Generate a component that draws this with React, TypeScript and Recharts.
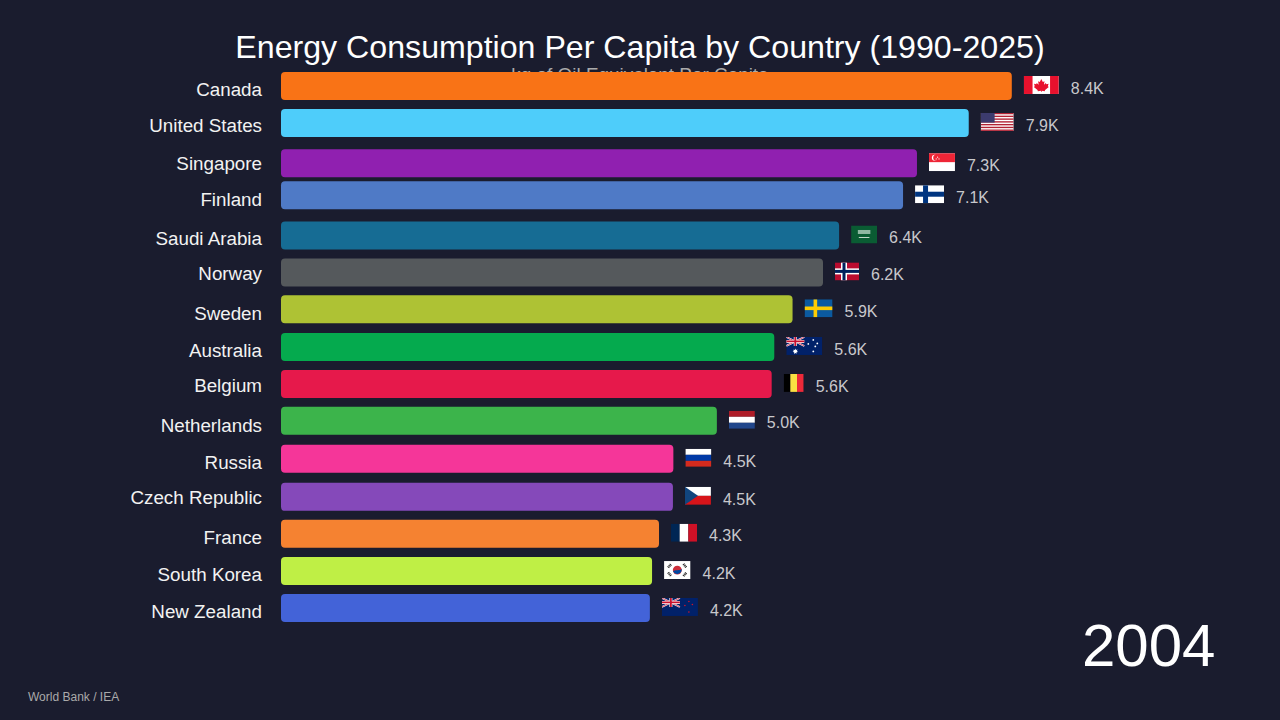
import { BarChart, Bar, XAxis, YAxis, Cell, LabelList } from 'recharts';

const FONT = '"Liberation Sans", Arial, sans-serif';
const BG = '#1a1c2e';

const countries = [
  'Canada', 'United States', 'Singapore', 'Finland', 'Saudi Arabia', 'Norway', 'Sweden', 'Australia',
  'Belgium', 'Netherlands', 'Russia', 'Czech Republic', 'France', 'South Korea', 'New Zealand',
];
// kg of oil equivalent per capita, 2004 frame
const values = [8400, 7905, 7310, 7150, 6415, 6230, 5880, 5670, 5640, 5010, 4510, 4505, 4345, 4265, 4240];
const valueLabels = ['8.4K', '7.9K', '7.3K', '7.1K', '6.4K', '6.2K', '5.9K', '5.6K', '5.6K', '5.0K', '4.5K', '4.5K', '4.3K', '4.2K', '4.2K'];
// rank while the frame is mid-transition, so not whole numbers
const slots = [0, 0.99, 2.07, 2.93, 4.01, 5, 5.99, 7, 7.99, 8.98, 10, 11.02, 12.01, 13.01, 14];
const labelSlots = [0.08, 1.05, 2.07, 3.05, 4.09, 5.03, 6.09, 7.08, 8.02, 9.09, 10.1, 11.04, 12.11, 13.09, 14.08];
const colors = [
  '#f97316', '#4ecdfa', '#9020b0', '#4f7ac6', '#166c94', '#55595c', '#aec234', '#05aa4e',
  '#e6194b', '#3cb44b', '#f53699', '#8549ba', '#f58231', '#bfef45', '#4363d8',
];
const flagWidths = [35, 33, 26, 29, 26, 24, 28, 36, 20, 26, 26, 26, 26, 26.5, 36];

const chartData = countries.map((name, i) => ({ name, value: values[i], slot: slots[i] }));

const UnionJack = () => (
  <g>
    <rect width="30" height="15" fill="#012169" />
    <path d="M0 0L30 15M30 0L0 15" stroke="#fff" strokeWidth="3" />
    <path d="M0 0L30 15M30 0L0 15" stroke="#c8102e" strokeWidth="1.2" />
    <path d="M15 0V15M0 7.5H30" stroke="#fff" strokeWidth="5" />
    <path d="M15 0V15M0 7.5H30" stroke="#c8102e" strokeWidth="3" />
  </g>
);

function Flag({ name }: { name: string }) {
  switch (name) {
    case 'Canada':
      return (
        <g>
          <rect width="36" height="18" fill="#fff" />
          <rect width="9" height="18" fill="#e8112d" />
          <rect x="27" width="9" height="18" fill="#e8112d" />
          <path d="M18 3l1.6 3 1.7-.8-.6 3.6 2-1.8.5 1.3 2.3-.4-.8 2.5 1 .6-3.8 3-.4 1.3-3.2-.5V16h-.6v-1.2l-3.2.5-.4-1.3-3.8-3 1-.6-.8-2.5 2.3.4.5-1.3 2 1.8-.6-3.6 1.7.8z" fill="#e8112d" />
        </g>
      );
    case 'United States':
      return (
        <g>
          <rect width="38" height="20" fill="#fff" />
          {[0, 1, 2, 3, 4, 5, 6].map((n) => (
            <rect key={n} y={n * 3.08} width="38" height="1.54" fill="#b22234" />
          ))}
          <rect width="16" height="10.8" fill="#3c3b6e" />
        </g>
      );
    case 'Singapore':
      return (
        <g>
          <rect width="27" height="18" fill="#fff" />
          <rect width="27" height="9" fill="#ee2536" />
          <circle cx="6" cy="4.5" r="3" fill="#fff" />
          <circle cx="7.4" cy="4.5" r="3" fill="#ee2536" />
          <circle cx="9" cy="4" r="0.6" fill="#fff" />
          <circle cx="7.5" cy="5.8" r="0.6" fill="#fff" />
          <circle cx="10.4" cy="5.8" r="0.6" fill="#fff" />
        </g>
      );
    case 'Finland':
      return (
        <g>
          <rect width="29" height="18" fill="#fff" />
          <rect x="8" width="5" height="18" fill="#003580" />
          <rect y="6.5" width="29" height="5" fill="#003580" />
        </g>
      );
    case 'Saudi Arabia':
      return (
        <g>
          <rect width="27" height="18" fill="#0a5c33" />
          <rect x="7" y="4.5" width="13" height="4" fill="#8fb8a2" />
          <rect x="8" y="11.5" width="11" height="1" fill="#c4d8cb" />
        </g>
      );
    case 'Norway':
      return (
        <g>
          <rect width="24" height="18" fill="#ba0c2f" />
          <rect x="6" width="6" height="18" fill="#fff" />
          <rect y="6" width="24" height="6" fill="#fff" />
          <rect x="7.5" width="3" height="18" fill="#00205b" />
          <rect y="7.5" width="24" height="3" fill="#00205b" />
        </g>
      );
    case 'Sweden':
      return (
        <g>
          <rect width="28" height="18" fill="#0b5aa0" />
          <rect x="9" width="3.6" height="18" fill="#fecc02" />
          <rect y="7.2" width="28" height="3.6" fill="#fecc02" />
        </g>
      );
    case 'Australia':
      return (
        <g>
          <rect width="36" height="18" fill="#012169" />
          <g transform="scale(0.6)"><UnionJack /></g>
          <path d="M9 11.5l.7 1.5 1.6-.4-.8 1.4 1.3 1-1.6.3v1.6L9 16l-1.2 1 .1-1.6-1.6-.3 1.3-1-.8-1.4 1.6.4z" fill="#fff" />
          {[[27, 3], [22, 7], [31, 6.5], [27, 14.5], [29, 9.5]].map(([cx, cy]) => (
            <circle key={cx + '-' + cy} cx={cx} cy={cy} r="0.9" fill="#fff" />
          ))}
        </g>
      );
    case 'Belgium':
      return (
        <g>
          <rect width="7" height="18" fill="#000" />
          <rect x="7" width="7" height="18" fill="#fae042" />
          <rect x="14" width="7" height="18" fill="#ed2939" />
        </g>
      );
    case 'Netherlands':
      return (
        <g>
          <rect width="27" height="6" fill="#ae1c28" />
          <rect y="6" width="27" height="6" fill="#fff" />
          <rect y="12" width="27" height="6" fill="#21468b" />
        </g>
      );
    case 'Russia':
      return (
        <g>
          <rect width="27" height="6" fill="#fff" />
          <rect y="6" width="27" height="6" fill="#0039a6" />
          <rect y="12" width="27" height="6" fill="#d52b1e" />
        </g>
      );
    case 'Czech Republic':
      return (
        <g>
          <rect width="27" height="9" fill="#fff" />
          <rect y="9" width="27" height="9" fill="#d7141a" />
          <path d="M0 0L13.5 9L0 18Z" fill="#11457e" />
        </g>
      );
    case 'France':
      return (
        <g>
          <rect width="8" height="18" fill="#002654" />
          <rect x="8" width="8" height="18" fill="#fff" />
          <rect x="16" width="8" height="18" fill="#ce1126" />
        </g>
      );
    case 'South Korea':
      return (
        <g>
          <rect width="26" height="18" fill="#fff" />
          <circle cx="13" cy="9" r="4.4" fill="#cd2e3a" />
          <path d="M8.8 10.2A4.4 4.4 0 0 0 17.2 7.8C16 10.4 10.5 8 8.8 10.2Z" fill="#0047a0" />
          <g stroke="#222" strokeWidth="2.4" strokeDasharray="1 0.6">
            <path d="M4 6.5l3-3.5" />
            <path d="M19 3l3 3.5" />
            <path d="M4 11.5l3 3.5" />
            <path d="M19 15l3-3.5" />
          </g>
        </g>
      );
    default:
      return (
        <g>
          <rect width="36" height="18" fill="#012169" />
          <g transform="scale(0.6)"><UnionJack /></g>
          {[[27, 3.5], [23, 7.5], [30.5, 6.5], [27, 14]].map(([cx, cy]) => (
            <circle key={cx + '-' + cy} cx={cx} cy={cy} r="0.8" fill="#cc142b" />
          ))}
        </g>
      );
  }
}

// flag and value sit just past the end of each bar
function FlagLabel(props: any) {
  const box = props.viewBox ?? props;
  const i = props.index as number;
  const end = box.x + box.width;
  const midY = box.y + box.height / 2;
  const w = flagWidths[i];
  const natural: Record<number, number> = { 0: 36, 1: 38, 2: 27, 3: 29, 4: 27, 5: 24, 6: 28, 7: 36, 8: 21, 9: 27, 10: 27, 11: 27, 12: 24, 13: 26, 14: 36 };
  return (
    <g>
      <svg x={end + 12} y={midY - 10} width={w} height={18} viewBox={`0 0 ${natural[i]} ${i === 1 ? 20 : 18}`} preserveAspectRatio="none">
        <Flag name={countries[i]} />
      </svg>
      <text x={end + 12 + w + 12} y={midY + 2} dy="0.355em" fontSize={16} fill="#c8c8cc" fontFamily={FONT}>
        {valueLabels[i]}
      </text>
    </g>
  );
}

function CountryTick(props: any) {
  const i = labelSlots.indexOf(props.payload.value);
  return (
    <text x={262} y={props.y} dy="0.355em" textAnchor="end" fontSize={18.8} fill="#f2f2f2" fontFamily={FONT}>
      {countries[i]}
    </text>
  );
}

export default function App() {
  return (
    <div style={{ position: 'fixed', left: 0, top: 0, width: 1280, height: 720, background: BG, overflow: 'hidden', fontFamily: FONT }}>
      <div style={{ position: 'absolute', top: 29, left: 0, width: 1280, textAlign: 'center', color: '#fff', fontSize: 32.15 }}>
        Energy Consumption Per Capita by Country (1990-2025)
      </div>
      <div style={{ position: 'absolute', top: 64, left: 0, width: 1280, textAlign: 'center', color: '#aaaaaa', fontSize: 18.9 }}>
        kg of Oil Equivalent Per Capita
      </div>
      <div style={{ position: 'absolute', left: 1082, top: 611, color: '#fff', fontSize: 60 }}>2004</div>
      <div style={{ position: 'absolute', left: 28, top: 690, color: '#aaaaaa', fontSize: 12 }}>World Bank / IEA</div>
      <div style={{ position: 'absolute', left: 0, top: 0 }}>
        <BarChart
          width={1280}
          height={720}
          layout="vertical"
          data={chartData}
          margin={{ top: 86, right: 216, bottom: 112, left: 0 }}
        >
          <XAxis type="number" domain={[0, 9000]} hide />
          <YAxis
            type="number"
            dataKey="slot"
            domain={[0, 14]}
            width={281}
            ticks={labelSlots}
            interval={0}
            axisLine={false}
            tickLine={false}
            tick={<CountryTick />}
          />
          <Bar dataKey="value" barSize={28} radius={4} isAnimationActive={false}>
            {chartData.map((d, i) => (
              <Cell key={d.name} fill={colors[i]} />
            ))}
            <LabelList dataKey="value" content={<FlagLabel />} />
          </Bar>
        </BarChart>
      </div>
    </div>
  );
}
